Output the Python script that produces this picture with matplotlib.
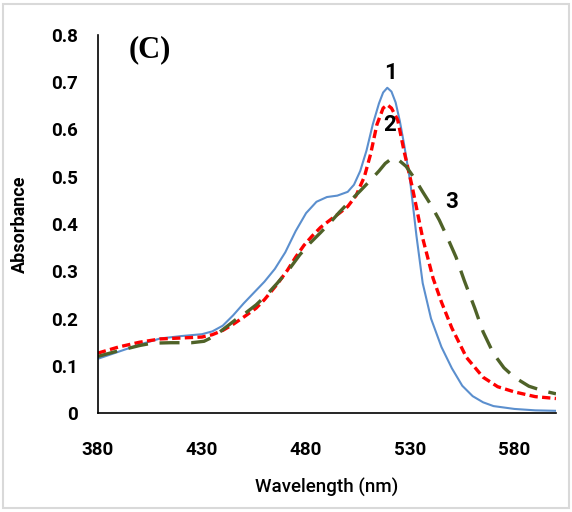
import matplotlib.pyplot as plt
from matplotlib.patches import Rectangle

# Absorption spectra (wavelength in nm, absorbance)
wl_1 = [380, 390, 400, 410, 420, 430, 435, 440, 445, 450, 455, 460, 465, 470, 475, 480, 485, 490,
        495, 500, 503, 506, 509, 512, 515, 517, 519, 521, 523, 525, 527, 530, 533, 536, 540, 545,
        550, 555, 560, 565, 570, 580, 590, 600]
abs_1 = [0.115, 0.13, 0.145, 0.158, 0.163, 0.167, 0.173, 0.185, 0.207, 0.232, 0.255, 0.278, 0.305,
         0.34, 0.385, 0.423, 0.447, 0.457, 0.46, 0.468, 0.483, 0.512, 0.555, 0.61, 0.655, 0.678,
         0.688, 0.68, 0.657, 0.618, 0.57, 0.49, 0.375, 0.275, 0.2, 0.14, 0.095, 0.058, 0.036,
         0.023, 0.015, 0.009, 0.006, 0.005]

wl_2 = [380, 390, 400, 410, 420, 430, 435, 440, 445, 450, 456, 460, 466, 471, 475, 479, 483, 487,
        492, 496, 500, 504, 508, 511, 514, 517, 519, 521, 524, 527, 531, 536, 541, 545, 550, 557,
        565, 572, 580, 590, 600]
abs_2 = [0.127, 0.14, 0.15, 0.157, 0.159, 0.161, 0.166, 0.175, 0.188, 0.203, 0.222, 0.24, 0.272,
         0.302, 0.33, 0.355, 0.375, 0.393, 0.41, 0.423, 0.437, 0.46, 0.5, 0.548, 0.61, 0.645,
         0.652, 0.645, 0.62, 0.555, 0.478, 0.37, 0.285, 0.235, 0.18, 0.118, 0.076, 0.056, 0.045,
         0.035, 0.031]

wl_3 = [380, 390, 400, 406, 415, 425, 431, 436, 441, 446, 451, 456, 461, 466, 472, 477, 482, 487,
        492, 496, 501, 506, 511, 515, 518, 521, 524, 528, 532, 536, 540, 544, 548, 552, 556, 561,
        565, 570, 575, 580, 587, 594, 600]
abs_3 = [0.12, 0.132, 0.143, 0.148, 0.149, 0.149, 0.152, 0.163, 0.18, 0.197, 0.212, 0.229, 0.25,
         0.274, 0.305, 0.335, 0.36, 0.382, 0.405, 0.425, 0.448, 0.47, 0.493, 0.512, 0.528, 0.538,
         0.537, 0.522, 0.497, 0.468, 0.44, 0.408, 0.37, 0.33, 0.28, 0.222, 0.172, 0.126, 0.096,
         0.076, 0.057, 0.047, 0.041]

x_ticks = [380, 430, 480, 530, 580]
y_ticks = [0, 0.1, 0.2, 0.3, 0.4, 0.5, 0.6, 0.7, 0.8]
y_tick_labels = ['0', '0.1', '0.2', '0.3', '0.4', '0.5', '0.6', '0.7', '0.8']

plt.rcParams['font.family'] = ['Roboto', 'DejaVu Sans']

fig = plt.figure(figsize=(5.72, 5.12), dpi=100)
fig.patches.append(Rectangle((0.005, 0.008), 0.99, 0.984, transform=fig.transFigure,
                             fill=False, edgecolor='#d9d9d9', linewidth=1.5))
ax = fig.add_axes([0.171, 0.193, 0.801, 0.739])

ax.plot(wl_1, abs_1, color='#5b8fce', linewidth=1.5)
ax.plot(wl_2, abs_2, color='#ff0000', linewidth=2.4, dashes=(2.5, 1.3))
ax.plot(wl_3, abs_3, color='#4f6228', linewidth=2.4, dashes=(6, 3.5))

ax.set_xlim(380, 600)
ax.set_ylim(0, 0.8)
ax.set_xticks(x_ticks)
ax.set_yticks(y_ticks)
ax.set_yticklabels(y_tick_labels)
ax.tick_params(length=0, labelsize=13.5)
ax.tick_params(axis='x', pad=20)
ax.tick_params(axis='y', pad=14)
for lbl in ax.get_xticklabels() + ax.get_yticklabels():
    lbl.set_fontweight('bold')

for side in ['top', 'right']:
    ax.spines[side].set_visible(False)
for side in ['left', 'bottom']:
    ax.spines[side].set_color('black')
    ax.spines[side].set_linewidth(1.2)

ax.set_xlabel('Wavelength (nm)', fontsize=13.5, fontweight='medium', labelpad=14)
ax.set_ylabel('Absorbance', fontsize=13, fontweight='bold', labelpad=16)

ax.text(405, 0.768, '(C)', fontsize=22, fontweight='bold', family='Liberation Serif',
        ha='center', va='center')
ax.text(520.8, 0.719, '1', fontsize=16, fontweight='bold', ha='center', va='center')
ax.text(520, 0.609, '2', fontsize=16, fontweight='bold', ha='center', va='center')
ax.text(549.7, 0.447, '3', fontsize=16, fontweight='bold', ha='center', va='center')

fig.savefig('out.png', dpi=100)
